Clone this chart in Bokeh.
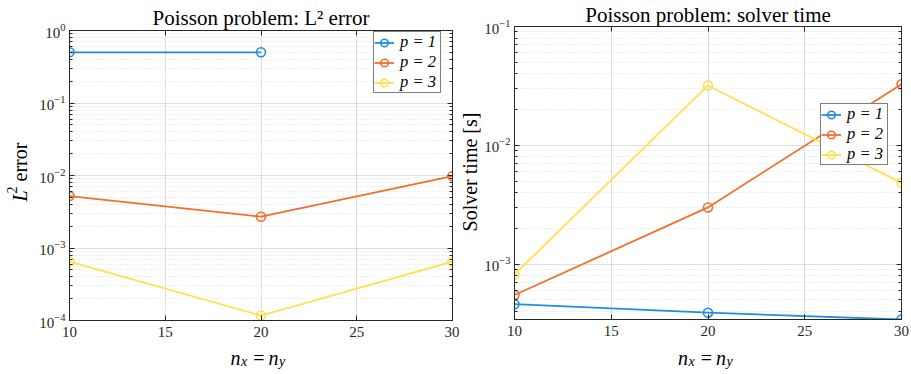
import math
from bokeh.plotting import figure
from bokeh.layouts import row, column
from bokeh.models import (Range1d, LinearAxis, LogAxis, LogTicker, SingleIntervalTicker, FixedTicker,
                          Legend, LegendItem, Label, CustomJSTickFormatter, Title)
from bokeh.embed import file_html
from bokeh.resources import INLINE

# ---------------- data ----------------
nx = [10, 20, 30]
degrees = ["1", "2", "3"]
err_p1 = [0.50, 0.50, float("nan")]
err_p2 = [5.2e-3, 2.7e-3, 9.8e-3]
err_p3 = [6.5e-4, 1.17e-4, 6.5e-4]
time_p1 = [4.6e-4, 3.9e-4, 3.42e-4]
time_p2 = [5.5e-4, 3.0e-3, 3.27e-2]
time_p3 = [8.2e-4, 3.19e-2, 4.83e-3]
err_range = [1e-4, 1.0]
time_top = 1e-1

colors = ["#1f8ee0", "#f0702c", "#ffe04e"]
FONT = "Liberation Serif"
INK = "#262626"
H = 374


def blank():
    return CustomJSTickFormatter(code="return ''")


def text_fig(w, h):
    t = figure(width=w, height=h, x_range=Range1d(0, 1), y_range=Range1d(0, 1),
               x_axis_location=None, y_axis_location=None, output_backend="svg",
               toolbar_location=None, min_border=0, frame_align=False)
    t.grid.visible = False
    t.outline_line_color = None
    t.background_fill_alpha = 0
    t.border_fill_alpha = 0
    return t


def lbl(p, x, y, text, size, style="normal", align="left", baseline="alphabetic", angle=0.0):
    p.add_layout(Label(x=x, y=y, x_units="screen", y_units="screen", text=text,
                       text_font=FONT, text_font_size=f"{size}px", text_font_style=style,
                       text_color="black", text_align=align, text_baseline=baseline,
                       angle=angle))


def make_fig(width, height, bl, br, bt, bb, y_range, title, title_standoff):
    p = figure(width=width, height=height, y_axis_type="log",
               x_range=Range1d(nx[0], nx[-1]), y_range=y_range,
               output_backend="svg", toolbar_location=None, frame_align=False,
               min_border_left=bl, min_border_right=br,
               min_border_top=bt, min_border_bottom=bb)
    p.title = Title(text=title, text_font=FONT, text_font_size="21px", text_font_style="normal",
                    text_color="black", align="center", standoff=title_standoff)
    p.outline_line_color = INK
    p.outline_line_width = 1
    p.xaxis.ticker = SingleIntervalTicker(interval=5, num_minor_ticks=0)
    p.yaxis.ticker = LogTicker(num_minor_ticks=10)
    for ax in p.xaxis + p.yaxis:
        ax.axis_line_color = INK
        ax.major_tick_in = 5
        ax.major_tick_out = 0
        ax.minor_tick_in = 3
        ax.minor_tick_out = 0
        ax.major_tick_line_color = INK
        ax.minor_tick_line_color = INK
        ax.major_label_text_font = FONT
        ax.major_label_text_font_size = "15px"
        ax.major_label_text_color = INK
    p.yaxis.major_label_standoff = 4
    p.xaxis.major_label_standoff = 6
    ra = LogAxis(ticker=LogTicker(num_minor_ticks=10), formatter=blank(),
                 major_tick_in=5, major_tick_out=0, minor_tick_in=3, minor_tick_out=0,
                 axis_line_color=INK, major_tick_line_color=INK, minor_tick_line_color=INK,
                 major_label_standoff=0, major_label_text_font_size="1px")
    p.add_layout(ra, "right")
    ta = LinearAxis(ticker=SingleIntervalTicker(interval=5, num_minor_ticks=0), formatter=blank(),
                    major_tick_in=5, major_tick_out=0, minor_tick_in=0, minor_tick_out=0,
                    axis_line_color=INK, major_tick_line_color=INK,
                    major_label_standoff=0, major_label_text_font_size="1px")
    p.add_layout(ta, "above")
    lo, hi = math.floor(math.log10(y_range.start)), math.ceil(math.log10(y_range.end))
    p.ygrid.ticker = FixedTicker(ticks=[10.0 ** e for e in range(lo, hi + 1)],
                                 minor_ticks=[k * 10.0 ** e for e in range(lo, hi) for k in range(2, 10)])
    p.xgrid.grid_line_color = INK
    p.xgrid.grid_line_alpha = 0.15
    p.ygrid.grid_line_color = INK
    p.ygrid.grid_line_alpha = 0.15
    p.ygrid.minor_grid_line_color = INK
    p.ygrid.minor_grid_line_alpha = 0.15
    p.ygrid.minor_grid_line_dash = "1 2"
    return p


def add_series(p, series, lx, ly):
    items = []
    for ys, c, d in zip(series, colors, degrees):
        ln = p.line(nx, ys, line_color=c, line_width=1.8)
        sc = p.scatter(nx, ys, marker="circle", size=9, line_color=c, line_width=1.6,
                       fill_color=None)
        items.append(LegendItem(label="p = " + d, renderers=[ln, sc]))
    leg = Legend(items=items, location=(lx, ly), padding=0, spacing=0, margin=0,
                 glyph_height=19, glyph_width=20, label_height=19, label_width=40,
                 label_standoff=6, label_text_font=FONT, label_text_font_size="16.5px",
                 label_text_font_style="italic", label_text_color="black",
                 border_line_color="black", border_line_width=1,
                 background_fill_color="white", background_fill_alpha=1)
    p.add_layout(leg, "center")


def add_xlabel(t, c, base):
    lbl(t, c - 29.5, base, "n", 20, style="italic")
    lbl(t, c - 19, base - 4, "x", 14, style="italic")
    lbl(t, c - 1, base, "=", 20, align="center")
    lbl(t, c + 8.5, base, "n", 20, style="italic")
    lbl(t, c + 19, base - 4, "y", 14, style="italic")


HM = 342          # height of the plot row
HX = H - HM       # height of x-label strip

# ---------------- left: L2 error ----------------
WL, WY1 = 459, 36
p1 = make_fig(WL - WY1, HM, 31, 7, 30, 22, Range1d(err_range[0], err_range[1]),
              "Poisson problem: L² error", 2)
add_series(p1, [err_p1, err_p2, err_p3], 304, 227)
yl1 = text_fig(WY1, HM)
lbl(yl1, 19, HM - 201, "L", 20, style="italic", angle=math.pi / 2)
lbl(yl1, 11, HM - 193, "2", 14, angle=math.pi / 2)
lbl(yl1, 19, HM - 181, "error", 20, angle=math.pi / 2)
xl1 = text_fig(WL, HX)
add_xlabel(xl1, 259.5, H - 357)

# ---------------- right: solver time ----------------
WR, WY2 = 452, 22
all_t = time_p1 + time_p2 + time_p3
p2 = make_fig(WR - WY2, HM, 32, 10, 25, 23, Range1d(min(all_t), time_top),
              "Poisson problem: solver time", 0)
add_series(p2, [time_p1, time_p2, time_p3], 306, 154)
yl2 = text_fig(WY2, HM)
lbl(yl2, 10, HM - 171.5, "Solver time [s]", 20, align="center", angle=math.pi / 2)
xl2 = text_fig(WR, HX)
add_xlabel(xl2, 707 - WL, H - 357)

left = column(row(yl1, p1), xl1)
right = column(row(yl2, p2), xl2)
layout = row(left, right)
open("out.html", "w").write(file_html(layout, INLINE))
